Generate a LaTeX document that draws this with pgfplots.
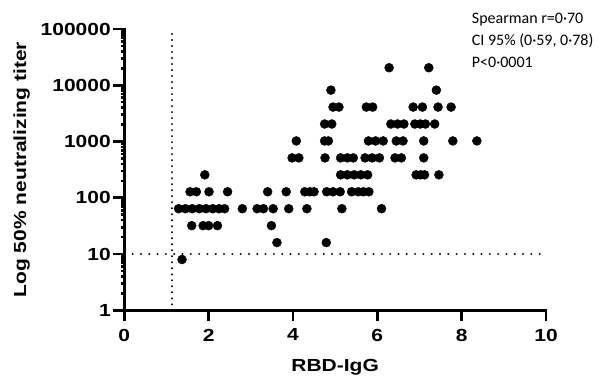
\documentclass[border=0pt]{standalone}
\usepackage{fontspec}
\usepackage{pgfplots}
\pgfplotsset{compat=1.18}
\usepackage{pgfplotstable}
\newfontfamily\axfont[FakeStretch=1.2]{Liberation Sans}
\newfontfamily\calfont{Carlito}
\pgfplotstableread{
x y
1.37 8
3.62 16
4.79 16
1.60 32
1.87 32
2.00 32
2.21 32
3.49 32
1.29 64
1.45 64
1.61 64
1.78 64
1.94 64
2.10 64
2.25 64
2.38 64
2.80 64
3.15 64
3.30 64
3.53 64
3.90 64
4.33 64
5.16 64
6.10 64
1.56 128
1.71 128
2.01 128
2.45 128
3.40 128
3.84 128
4.28 128
4.40 128
4.50 128
4.80 128
4.95 128
5.12 128
5.39 128
5.55 128
5.67 128
5.80 128
1.91 256
5.13 256
5.29 256
5.45 256
5.61 256
5.77 256
6.92 256
7.03 256
7.12 256
7.46 256
3.98 512
4.14 512
4.76 512
5.13 512
5.29 512
5.43 512
5.71 512
5.88 512
6.05 512
6.42 512
6.57 512
7.10 512
4.08 1024
4.75 1024
4.84 1024
5.79 1024
5.96 1024
6.14 1024
6.45 1024
6.61 1024
7.10 1024
7.79 1024
8.36 1024
4.75 2048
4.92 2048
6.32 2048
6.48 2048
6.63 2048
6.89 2048
7.02 2048
7.14 2048
7.36 2048
4.95 4096
5.09 4096
5.74 4096
5.89 4096
6.85 4096
7.07 4096
7.44 4096
7.75 4096
4.90 8192
7.40 8192
6.28 20480
7.22 20480
}\datatable
\begin{document}
\begin{tikzpicture}
\begin{axis}[
  scale only axis,
  width=422bp, height=281.5bp,
  xmin=0, xmax=10, ymin=1, ymax=100000,
  ymode=log,
  axis x line*=bottom, axis y line*=left,
  axis line style={line width=2.6bp, line cap=rect},
  xtick={0,2,4,6,8,10},
  xticklabels={0,2,4,6,8,10},
  ytick={1,10,100,1000,10000,100000},
  yticklabels={1,10,100,1000,10000,100000},
  minor tick num=0,
  minor ytick={},
  tick align=outside,
  major tick length=11bp,
  tick style={line width=2.6bp, black},
  tick label style={font=\axfont\bfseries\fontsize{17.5bp}{21bp}\selectfont},
  xticklabel style={yshift=-4bp},
  yticklabel style={xshift=1bp},
  clip=false,
]
\addplot[only marks, mark=*, mark size=4.5bp, black] table[x=x, y=y] {\datatable};
\addplot[black, line width=2.3bp, dash pattern=on 0.01bp off 6bp, line cap=round] coordinates {(1.125,1) (1.125,100000)};
\addplot[black, line width=2.3bp, dash pattern=on 0.01bp off 8.3bp, line cap=round] coordinates {(0.2,10) (9.85,10)};
\node[rotate=90, font=\axfont\bfseries\fontsize{17.5bp}{21bp}\selectfont, anchor=center] at ([xshift=-102.6bp]axis description cs:0,0.5) {Log 50\% neutralizing titer};
\node[font=\axfont\bfseries\fontsize{17.5bp}{21bp}\selectfont, anchor=center] at ([yshift=-57bp]axis description cs:0.5,0) {RBD-IgG};
\node[font=\calfont\fontsize{16bp}{18bp}\selectfont, anchor=base west, inner sep=0] at ([xshift=-74.3bp, yshift=5bp]axis description cs:1,1) {Spearman r=0·70};
\node[font=\calfont\fontsize{16bp}{18bp}\selectfont, anchor=base west, inner sep=0] at ([xshift=-74.3bp, yshift=-16.7bp]axis description cs:1,1) {CI 95\% (0·59, 0·78)};
\node[font=\calfont\fontsize{16bp}{18bp}\selectfont, anchor=base west, inner sep=0] at ([xshift=-74.3bp, yshift=-38.4bp]axis description cs:1,1) {P<0·0001};
\end{axis}
\path ([xshift=-124.3bp, yshift=-67.5bp]current axis.south west) rectangle ([xshift=67bp, yshift=29bp]current axis.north east);
\end{tikzpicture}
\end{document}
